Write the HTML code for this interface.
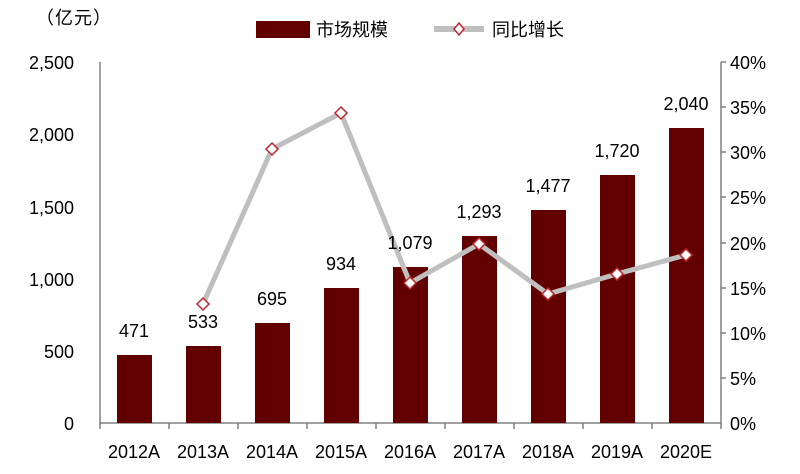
<!DOCTYPE html>
<html><head><meta charset="utf-8"><style>
html,body{margin:0;padding:0;background:#fff;}
svg{display:block;}
text{font-family:"Liberation Sans Narrow","Liberation Sans","Noto Sans CJK SC",sans-serif;fill:#000;}
</style></head><body>
<svg width="800" height="474" viewBox="0 0 800 474" xmlns="http://www.w3.org/2000/svg">
<text x="36" y="24" font-size="18" style="font-family:'Noto Sans CJK SC',sans-serif" letter-spacing="1">（亿元）</text>
<rect x="256" y="21" width="54" height="17" fill="#620000"/>
<text x="316" y="36" font-size="18" style="font-family:'Noto Sans CJK SC',sans-serif">市场规模</text>
<line x1="434" y1="29" x2="484" y2="29" stroke="#bfbfbf" stroke-width="6"/>
<path d="M459 23 L464 29 L459 35 L454 29 Z" fill="#fff" stroke="#c0272d" stroke-width="1.5"/>
<text x="492" y="36" font-size="18" style="font-family:'Noto Sans CJK SC',sans-serif">同比增长</text>
<g stroke="#808080" stroke-width="1.5" fill="none">
<line x1="100" y1="62" x2="100" y2="424"/>
<line x1="100" y1="423" x2="721" y2="423"/>
<line x1="721" y1="62" x2="721" y2="424"/>
<line x1="721" y1="62" x2="726" y2="62"/><line x1="721" y1="107" x2="726" y2="107"/>
<line x1="721" y1="152" x2="726" y2="152"/><line x1="721" y1="197" x2="726" y2="197"/>
<line x1="721" y1="243" x2="726" y2="243"/><line x1="721" y1="288" x2="726" y2="288"/>
<line x1="721" y1="333" x2="726" y2="333"/><line x1="721" y1="378" x2="726" y2="378"/>
<line x1="169" y1="423" x2="169" y2="429"/><line x1="238" y1="423" x2="238" y2="429"/>
<line x1="307" y1="423" x2="307" y2="429"/><line x1="376" y1="423" x2="376" y2="429"/>
<line x1="445" y1="423" x2="445" y2="429"/><line x1="514" y1="423" x2="514" y2="429"/>
<line x1="583" y1="423" x2="583" y2="429"/><line x1="652" y1="423" x2="652" y2="429"/>
<line x1="100" y1="423" x2="100" y2="429"/><line x1="721" y1="423" x2="721" y2="429"/>
</g>
<g font-size="18" text-anchor="end">
<text x="74" y="69">2,500</text><text x="74" y="141">2,000</text><text x="74" y="214">1,500</text>
<text x="74" y="286">1,000</text><text x="74" y="358">500</text><text x="74" y="430">0</text>
</g>
<g font-size="18">
<text x="730" y="69">40%</text><text x="730" y="114">35%</text><text x="730" y="159">30%</text>
<text x="730" y="204">25%</text><text x="730" y="250">20%</text><text x="730" y="295">15%</text>
<text x="730" y="340">10%</text><text x="730" y="385">5%</text><text x="730" y="430">0%</text>
</g>
<g fill="#620000">
<rect x="117" y="355" width="35" height="68"/>
<rect x="186" y="346" width="35" height="77"/>
<rect x="255" y="323" width="35" height="100"/>
<rect x="324" y="288" width="35" height="135"/>
<rect x="393" y="267" width="35" height="156"/>
<rect x="462" y="236" width="35" height="187"/>
<rect x="531" y="210" width="35" height="213"/>
<rect x="600" y="175" width="35" height="248"/>
<rect x="669" y="128" width="35" height="295"/>
</g>
<polyline points="203,304 272,149 341,113 410,283 479,244 548,294 617,274 686,255" fill="none" stroke="#bfbfbf" stroke-width="5" stroke-linejoin="round"/>
<g fill="#fff" stroke="#c0272d" stroke-width="1.5">
<path d="M203 298 L209 304 L203 310 L197 304Z"/>
<path d="M272 143 L278 149 L272 155 L266 149Z"/>
<path d="M341 107 L347 113 L341 119 L335 113Z"/>
<path d="M410 277 L416 283 L410 289 L404 283Z"/>
<path d="M479 238 L485 244 L479 250 L473 244Z"/>
<path d="M548 288 L554 294 L548 300 L542 294Z"/>
<path d="M617 268 L623 274 L617 280 L611 274Z"/>
<path d="M686 249 L692 255 L686 261 L680 255Z"/>
</g>
<g font-size="18" text-anchor="middle">
<text x="134" y="337">471</text><text x="203" y="328">533</text><text x="272" y="305">695</text>
<text x="341" y="270">934</text><text x="410" y="249">1,079</text><text x="479" y="218">1,293</text>
<text x="548" y="192">1,477</text><text x="617" y="157">1,720</text><text x="686" y="110">2,040</text>
</g>
<g font-size="18" text-anchor="middle">
<text x="134" y="458">2012A</text><text x="203" y="458">2013A</text><text x="272" y="458">2014A</text>
<text x="341" y="458">2015A</text><text x="410" y="458">2016A</text><text x="479" y="458">2017A</text>
<text x="548" y="458">2018A</text><text x="617" y="458">2019A</text><text x="686" y="458">2020E</text>
</g>
</svg>
</body></html>
